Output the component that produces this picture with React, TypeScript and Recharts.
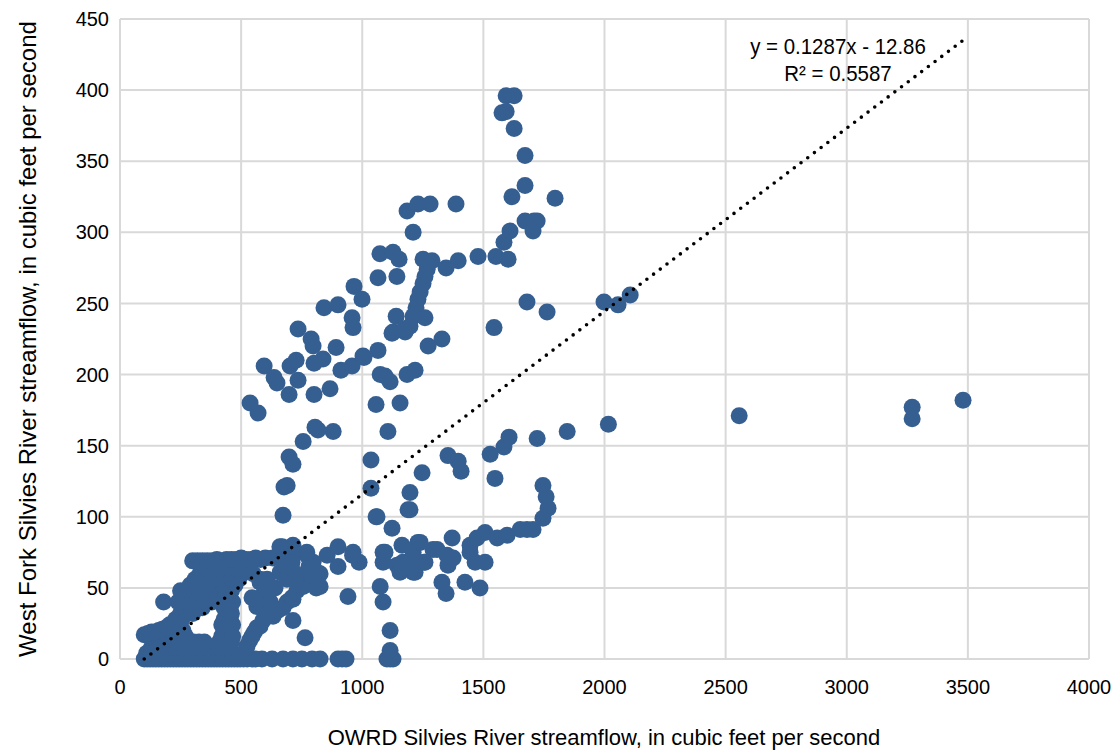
import * as React from 'react';
import { ScatterChart, Scatter, XAxis, YAxis, CartesianGrid } from 'recharts';

// OWRD Silvies (x) vs West Fork Silvies (y), cubic feet per second
const zeroFlowX = [
  100, 112, 124, 136, 148, 160, 172, 184, 196, 208, 220, 232, 244, 256, 268, 280, 292, 304, 316, 328,
  340, 352, 364, 376, 388, 400, 412, 424, 436, 448, 460, 472, 484, 496, 510, 525, 545, 560, 586, 628,
  673, 714, 751, 793, 826, 900, 917, 933, 1102, 1115, 1127,
];

const lowCluster: [number, number][] = [
  [110, 4], [130, 4], [150, 4], [170, 4], [190, 4], [210, 4], [230, 4], [250, 4], [270, 4], [290, 4],
  [310, 4], [330, 4], [350, 4], [370, 4], [390, 4], [410, 4], [430, 4], [450, 4], [470, 4],
  [130, 8], [150, 8], [170, 8], [190, 8], [210, 8], [230, 8], [250, 8], [270, 8], [290, 8], [310, 8],
  [330, 8], [350, 8], [370, 8], [390, 8], [410, 8], [430, 8], [450, 8],
  [150, 12], [172, 12], [194, 12], [216, 12], [238, 12], [260, 12], [282, 12], [304, 12], [326, 12],
  [348, 12], [410, 12], [435, 12], [460, 12],
  [175, 16], [200, 16], [225, 16], [250, 16], [270, 16], [420, 16], [445, 16], [465, 16],
  [100, 17], [115, 18], [130, 19], [145, 19], [160, 20], [175, 21], [190, 22], [205, 24],
  [215, 20], [240, 20], [260, 20],
  [215, 24], [240, 24], [420, 24], [445, 24], [465, 24],
  [230, 28], [255, 28], [430, 28], [455, 28],
  [250, 32], [275, 32], [300, 32], [440, 32], [460, 32],
  [265, 36], [290, 36], [315, 36], [340, 36], [430, 36], [455, 36],
  [180, 40], [240, 40], [280, 40], [305, 40], [330, 40], [355, 40], [380, 40], [445, 40], [465, 40],
  [260, 44], [295, 44], [320, 44], [345, 44], [370, 44], [395, 44], [420, 44], [450, 44],
  [250, 48], [310, 48], [335, 48], [360, 48], [385, 48], [410, 48], [435, 48], [460, 48],
  [290, 52], [325, 52], [350, 52], [375, 52], [400, 52], [425, 52], [450, 52], [475, 52],
  [310, 56], [340, 56], [365, 56], [390, 56], [415, 56], [440, 56], [465, 56], [490, 56],
  [330, 60], [355, 60], [380, 60], [405, 60], [430, 60], [455, 60], [480, 60], [505, 60],
  [350, 64], [375, 64], [400, 64], [425, 64], [450, 64], [475, 64], [500, 64],
  [300, 69], [320, 69], [340, 69], [360, 69], [380, 69], [400, 70], [420, 69], [440, 70], [460, 70],
  [480, 70], [500, 71], [520, 70], [540, 70], [560, 71], [580, 70], [600, 71], [630, 71], [660, 72],
  [690, 73], [714, 74], [660, 79], [714, 80], [680, 76],
];

const secondBand: [number, number][] = [
  [524, 9], [535, 13], [545, 16], [555, 19], [565, 22], [578, 23], [590, 27], [611, 33], [628, 33],
  [632, 30], [650, 34], [673, 36], [690, 40], [710, 43], [714, 42], [730, 48], [751, 54], [756, 51],
  [770, 60], [780, 65], [772, 73], [790, 58], [800, 55], [810, 50], [813, 61], [797, 68],
  [550, 60], [565, 37], [578, 54], [578, 56], [590, 45], [600, 50], [607, 56], [607, 32], [620, 40],
  [640, 50], [661, 61], [669, 79], [689, 56], [694, 62], [680, 66], [710, 68], [725, 60], [545, 43],
  [714, 27], [764, 15], [1115, 6], [1115, 20],
];

const midLow: [number, number][] = [
  [771, 75], [826, 60], [826, 51], [855, 73], [900, 79], [900, 65], [941, 44], [962, 75], [987, 68],
  [960, 73], [1074, 51], [1086, 40], [1086, 75], [1086, 68], [1094, 75], [1061, 100], [1123, 92],
  [1189, 105], [1197, 117], [1144, 66], [1156, 61], [1168, 68], [1164, 80], [1210, 61], [1218, 61],
  [1210, 75], [1230, 82], [1239, 82], [1259, 68], [1255, 68], [1218, 68], [1292, 77], [1309, 77],
  [1350, 73], [1371, 85], [1375, 71], [1354, 66], [1329, 54], [1346, 46], [1424, 54], [1486, 50],
  [1445, 80], [1445, 75], [1474, 85], [1466, 68], [1507, 68], [1507, 89], [1557, 85], [1598, 87],
  [1652, 91], [1680, 91], [1705, 91], [1746, 99], [1767, 106], [1759, 114], [1746, 122],
];

const midUpper: [number, number][] = [
  [537, 180], [570, 173], [595, 206], [636, 198], [648, 194], [702, 206], [727, 210], [735, 196],
  [735, 232], [698, 186], [789, 225], [797, 220], [801, 208], [838, 211], [801, 186], [867, 190],
  [756, 153], [805, 163], [817, 161], [880, 160], [698, 142], [714, 137], [677, 121], [690, 122],
  [673, 101], [842, 247], [900, 249], [892, 219], [912, 203], [958, 206], [966, 262], [999, 253],
  [958, 240], [962, 233], [1003, 213], [1007, 212], [1065, 217], [1036, 140], [1036, 120],
  [1057, 100], [1057, 179], [1106, 160], [1156, 180], [1074, 200], [1094, 199], [1115, 195],
  [1185, 200], [1218, 203], [1197, 105], [1247, 131], [1354, 143], [1396, 139], [1408, 132],
  [1528, 144], [1548, 127], [1585, 149], [1606, 156], [1722, 155], [1846, 160],
];

const upper: [number, number][] = [
  [1065, 268], [1073, 285], [1127, 286], [1152, 281], [1143, 269], [1140, 241], [1123, 229],
  [1127, 230], [1177, 230], [1173, 232], [1197, 234], [1210, 241], [1222, 247], [1230, 253],
  [1239, 258], [1251, 264], [1259, 269], [1268, 274], [1251, 281], [1288, 280], [1259, 240],
  [1272, 220], [1329, 225], [1210, 300], [1185, 315], [1230, 320], [1280, 320], [1387, 320],
  [1346, 275], [1396, 280], [1478, 283], [1552, 283], [1602, 281], [1585, 293], [1610, 301],
  [1618, 325], [1672, 333], [1672, 354], [1627, 373], [1577, 384], [1594, 385], [1594, 396],
  [1627, 396], [1672, 308], [1709, 308], [1722, 308], [1705, 301], [1796, 324], [1763, 244],
  [1680, 251], [1544, 233],
];

const farRight: [number, number][] = [
  [1998, 251], [2056, 249], [2106, 256], [2016, 165], [2556, 171], [3270, 177], [3270, 169], [3480, 182],
];

// linear trendline y = 0.1287x - 12.86, drawn between the data extremes
const trendX = [100, 3480];
const trendY = [0, 435];

const xTicks = [0, 500, 1000, 1500, 2000, 2500, 3000, 3500, 4000];
const yTicks = [0, 50, 100, 150, 200, 250, 300, 350, 400, 450];

const MARKER = '#365f91';
const FONT = '"Liberation Sans", Arial, sans-serif';

const points = [
  ...zeroFlowX.map(x => [x, 0] as [number, number]),
  ...lowCluster,
  ...secondBand,
  ...midLow,
  ...midUpper,
  ...upper,
  ...farRight,
].map(([x, y]) => ({ x, y }));

const trend = trendX.map((x, i) => ({ x, y: trendY[i] }));

const Dot = (props: any) => <circle cx={props.cx} cy={props.cy} r={8.5} fill={MARKER} />;

export default function App() {
  return (
    <div style={{ position: 'absolute', left: 0, top: 0, width: 1115, height: 753, background: '#fff', fontFamily: FONT }}>
      <ScatterChart width={1115} height={753} margin={{ top: 19, right: 26, bottom: 64, left: 50 }}>
        <CartesianGrid stroke="#d9d9d9" strokeWidth={2} />
        <XAxis
          type="number"
          dataKey="x"
          domain={[0, 4000]}
          ticks={xTicks}
          interval={0}
          height={30}
          tickLine={false}
          tickMargin={15}
          axisLine={{ stroke: '#d9d9d9', strokeWidth: 2 }}
          tick={{ fill: '#000', fontSize: 20, fontFamily: FONT }}
        />
        <YAxis
          type="number"
          dataKey="y"
          domain={[0, 450]}
          ticks={yTicks}
          interval={0}
          width={70}
          tickLine={false}
          tickMargin={5}
          axisLine={{ stroke: '#d9d9d9', strokeWidth: 2 }}
          tick={{ fill: '#000', fontSize: 20, fontFamily: FONT }}
        />
        <Scatter data={points} shape={Dot} isAnimationActive={false} />
        <Scatter
          data={trend}
          shape={() => <g />}
          line={{ stroke: '#000', strokeWidth: 3.6, strokeDasharray: '0 8.4', strokeLinecap: 'round' }}
          isAnimationActive={false}
        />
      </ScatterChart>
      <div style={{ position: 'absolute', left: 838, top: 33, transform: 'translateX(-50%) scaleX(0.93)', fontSize: 22, lineHeight: '27px', textAlign: 'center', whiteSpace: 'nowrap', color: '#000' }}>
        y = 0.1287x - 12.86<br />R² = 0.5587
      </div>
      <div style={{ position: 'absolute', left: 604, top: 738, transform: 'translate(-50%, -50%)', fontSize: 22, whiteSpace: 'nowrap', color: '#000' }}>
        OWRD Silvies River streamflow, in cubic feet per second
      </div>
      <div style={{ position: 'absolute', left: 28, top: 339, transform: 'translate(-50%, -50%) rotate(-90deg)', fontSize: 24, whiteSpace: 'nowrap', color: '#000' }}>
        West Fork Silvies River streamflow, in cubic feet per second
      </div>
    </div>
  );
}
